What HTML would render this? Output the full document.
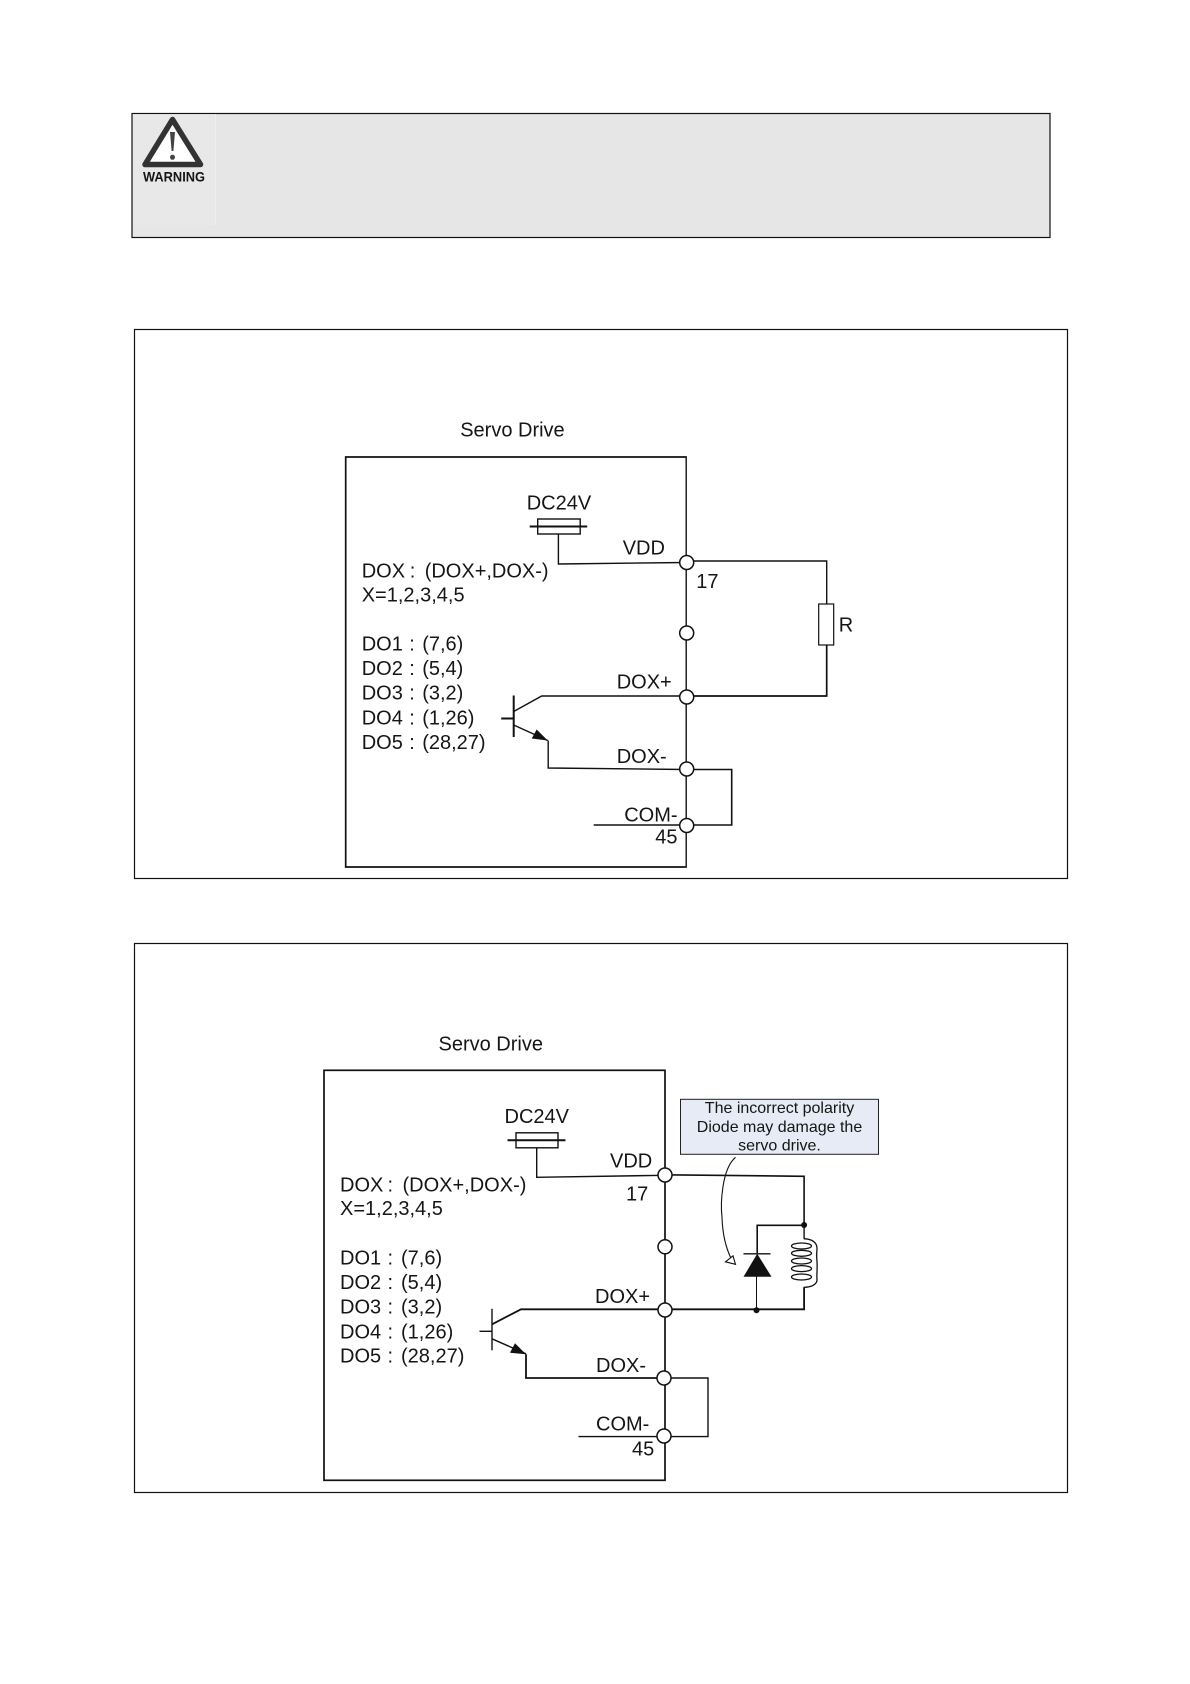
<!DOCTYPE html>
<html>
<head>
<meta charset="utf-8">
<style>
html,body{margin:0;padding:0;background:#fff;}
svg{display:block;}
text{font-family:"Liberation Sans",Arial,sans-serif;font-size:20px;fill:#151515;}
.l{fill:none;stroke:#111;stroke-width:1.4;}
.t{fill:none;stroke:#111;stroke-width:2;}
.c{fill:#fff;stroke:#111;stroke-width:1.5;}
</style>
</head>
<body>
<svg width="1190" height="1684" viewBox="0 0 1190 1684" xmlns="http://www.w3.org/2000/svg">
<rect width="1190" height="1684" fill="#fff"/>

<!-- Warning box -->
<rect x="132" y="113.5" width="918" height="124" fill="#e6e6e6" stroke="#111" stroke-width="1.2"/>
<rect x="133" y="114.2" width="82" height="111" fill="#e8e8e8"/>
<line x1="215.5" y1="114" x2="215.5" y2="225" stroke="#efefef" stroke-width="1"/>
<polygon points="172.5,119.5 200.5,164.5 145,164.5" fill="#fff" stroke="#333" stroke-width="5.5" stroke-linejoin="round"/>
<polygon points="170,132 175,132 173.4,151 171.6,151" fill="#444"/>
<circle cx="172.5" cy="157.3" r="2.5" fill="#444"/>
<text x="143" y="181.5" style="font-size:14px;font-weight:bold" textLength="62" lengthAdjust="spacingAndGlyphs">WARNING</text>

<!-- Panel 1 -->
<rect x="134.5" y="329.5" width="933" height="549" fill="#fff" stroke="#111" stroke-width="1.2"/>
<g transform="translate(-0.3,-0.5)">
<text x="460.5" y="437">Servo Drive</text>
<path d="M687 457.5H346V867.5H687" class="l" style="stroke-width:1.7"/>
<line x1="686.5" y1="457" x2="686.5" y2="868" class="l"/>
<text x="527" y="510">DC24V</text>
<rect x="538" y="519.5" width="42.5" height="15" fill="#fff" stroke="#111" stroke-width="1.4"/>
<line x1="530" y1="527" x2="587.5" y2="527" class="t"/>
<path d="M558.7 534.5V564.5L686 563" class="l"/>
<text x="623" y="555">VDD</text>
<text x="362" y="578">DOX<tspan x="410">:</tspan><tspan x="425">(DOX+,DOX-)</tspan></text>
<text x="362" y="602">X=1,2,3,4,5</text>
<text x="696.5" y="588.5">17</text>
<text x="362" y="651">DO1<tspan x="409.5">:</tspan><tspan x="422.5">(7,6)</tspan></text>
<text x="362" y="675.5">DO2<tspan x="409.5">:</tspan><tspan x="422.5">(5,4)</tspan></text>
<text x="362" y="700">DO3<tspan x="409.5">:</tspan><tspan x="422.5">(3,2)</tspan></text>
<text x="362" y="725">DO4<tspan x="409.5">:</tspan><tspan x="422.5">(1,26)</tspan></text>
<text x="362" y="749.5">DO5<tspan x="409.5">:</tspan><tspan x="422.5">(28,27)</tspan></text>
<!-- resistor loop -->
<path d="M686 561.5H827V605" class="l"/>
<rect x="819" y="604.5" width="15" height="41" fill="#fff" stroke="#111" stroke-width="1.2"/>
<path d="M827 645.5V696.5H686" class="l" style="stroke-width:1.7"/>
<text x="839" y="632">R</text>
<!-- transistor -->
<line x1="514" y1="696" x2="514" y2="737.5" class="t"/>
<line x1="501.5" y1="719" x2="514" y2="719" class="t"/>
<path d="M514 712L542 696.5H686" class="l"/>
<path d="M514 725.5L548 741" class="l"/>
<polygon points="548,741 532,739 537,730" fill="#111"/>
<path d="M548.5 741V768.5L686 770" class="l"/>
<path d="M686 770H732V825.5H594" class="l" style="stroke-width:1.6"/>
<text x="617" y="689">DOX+</text>
<text x="617" y="763.5">DOX-</text>
<text x="624.5" y="822">COM-</text>
<text x="655.5" y="844">45</text>
<circle cx="687" cy="563" r="7" class="c"/>
<circle cx="687" cy="633.5" r="7" class="c"/>
<circle cx="687" cy="697.5" r="7" class="c"/>
<circle cx="687" cy="769.5" r="7" class="c"/>
<circle cx="687" cy="826" r="7" class="c"/>
</g>

<!-- Panel 2 -->
<rect x="134.5" y="943.5" width="933" height="549" fill="#fff" stroke="#111" stroke-width="1.2"/>
<g transform="translate(-0.5,-0.7)">
<text x="439" y="1051">Servo Drive</text>
<rect x="324.5" y="1071" width="341" height="410" fill="none" stroke="#111" stroke-width="1.7"/>
<text x="505" y="1123.5">DC24V</text>
<rect x="516.5" y="1133.5" width="42" height="15" fill="#fff" stroke="#111" stroke-width="1.4"/>
<line x1="508" y1="1141" x2="566" y2="1141" class="t"/>
<path d="M537.2 1148.5V1178L665 1176" class="l"/>
<text x="610.5" y="1168">VDD</text>
<text x="340.5" y="1192">DOX<tspan x="388">:</tspan><tspan x="403">(DOX+,DOX-)</tspan></text>
<text x="340.5" y="1215.5">X=1,2,3,4,5</text>
<text x="626.5" y="1201">17</text>
<text x="340.5" y="1265">DO1<tspan x="388">:</tspan><tspan x="401.5">(7,6)</tspan></text>
<text x="340.5" y="1289.5">DO2<tspan x="388">:</tspan><tspan x="401.5">(5,4)</tspan></text>
<text x="340.5" y="1314">DO3<tspan x="388">:</tspan><tspan x="401.5">(3,2)</tspan></text>
<text x="340.5" y="1339">DO4<tspan x="388">:</tspan><tspan x="401.5">(1,26)</tspan></text>
<text x="340.5" y="1363">DO5<tspan x="388">:</tspan><tspan x="401.5">(28,27)</tspan></text>

<!-- Callout -->
<rect x="681" y="1100" width="198" height="55" fill="#e6ebf5" stroke="#222" stroke-width="1"/>
<text x="780" y="1113.5" text-anchor="middle" style="font-size:16px">The incorrect polarity</text>
<text x="780" y="1132.5" text-anchor="middle" style="font-size:16px">Diode may damage the</text>
<text x="780" y="1151" text-anchor="middle" style="font-size:16px">servo drive.</text>
<path d="M736 1158C722 1170 721 1205 722.5 1218C723 1235 726 1248 732 1260" fill="none" stroke="#111" stroke-width="1.1"/>
<polygon points="736,1265 726,1262.5 733.5,1256.5" fill="#fff" stroke="#111" stroke-width="1.1"/>

<!-- Coil and diode -->
<path d="M665 1175.5L804.6 1177V1226" class="l" style="stroke-width:1.6"/>
<line x1="804.6" y1="1226" x2="804.6" y2="1239.5" class="l"/>
<g fill="none" stroke="#111" stroke-width="1.3">
<path d="M804.3 1239.5C812 1239.5 818 1243 817.5 1250C817 1255 817 1258 817.5 1262C818 1270 817 1276 817.5 1280C818 1285 812 1288 804.3 1288"/>
<ellipse cx="802" cy="1246.7" rx="10" ry="3"/>
<ellipse cx="802" cy="1254" rx="10" ry="3"/>
<ellipse cx="802" cy="1261.7" rx="10" ry="3"/>
<ellipse cx="802" cy="1269.3" rx="10" ry="3"/>
<ellipse cx="802" cy="1277.7" rx="10" ry="3"/>
</g>
<path d="M804.6 1226H757.7V1254" class="l" style="stroke-width:1.6"/>
<line x1="744" y1="1254.5" x2="771" y2="1254.5" class="l"/>
<polygon points="757.7,1254.5 772,1277.5 744,1277.5" fill="#111"/>
<line x1="757" y1="1277" x2="757" y2="1311" class="l" style="stroke-width:1"/>
<circle cx="804.6" cy="1225.7" r="3" fill="#111"/>
<circle cx="757" cy="1311" r="3" fill="#111"/>
<path d="M804.6 1288V1310H665" class="l" style="stroke-width:1.8"/>

<!-- Transistor 2 -->
<line x1="492.5" y1="1309.5" x2="492.5" y2="1351" class="l"/>
<line x1="480" y1="1332" x2="492.5" y2="1332" class="l"/>
<path d="M492.5 1325L521.5 1310H665" class="l" style="stroke-width:1.8"/>
<path d="M492.5 1339.5L526.5 1354.5" class="l"/>
<polygon points="526.5,1355 510.5,1353.5 515.5,1344" fill="#111"/>
<path d="M526.5 1355V1378.7H665" class="l" style="stroke-width:1.8"/>
<path d="M665 1378.7H708.5V1437.3H579" class="l"/>
<text x="595.5" y="1303.5">DOX+</text>
<text x="596.5" y="1372.5">DOX-</text>
<text x="596.5" y="1431">COM-</text>
<text x="632.5" y="1456">45</text>
<circle cx="665.5" cy="1175.7" r="7" class="c"/>
<circle cx="665.5" cy="1247.5" r="7" class="c"/>
<circle cx="665.5" cy="1310.7" r="7" class="c"/>
<circle cx="664.5" cy="1378.7" r="7" class="c"/>
<circle cx="664.5" cy="1436.7" r="7" class="c"/>
</g>
</svg>
</body>
</html>
